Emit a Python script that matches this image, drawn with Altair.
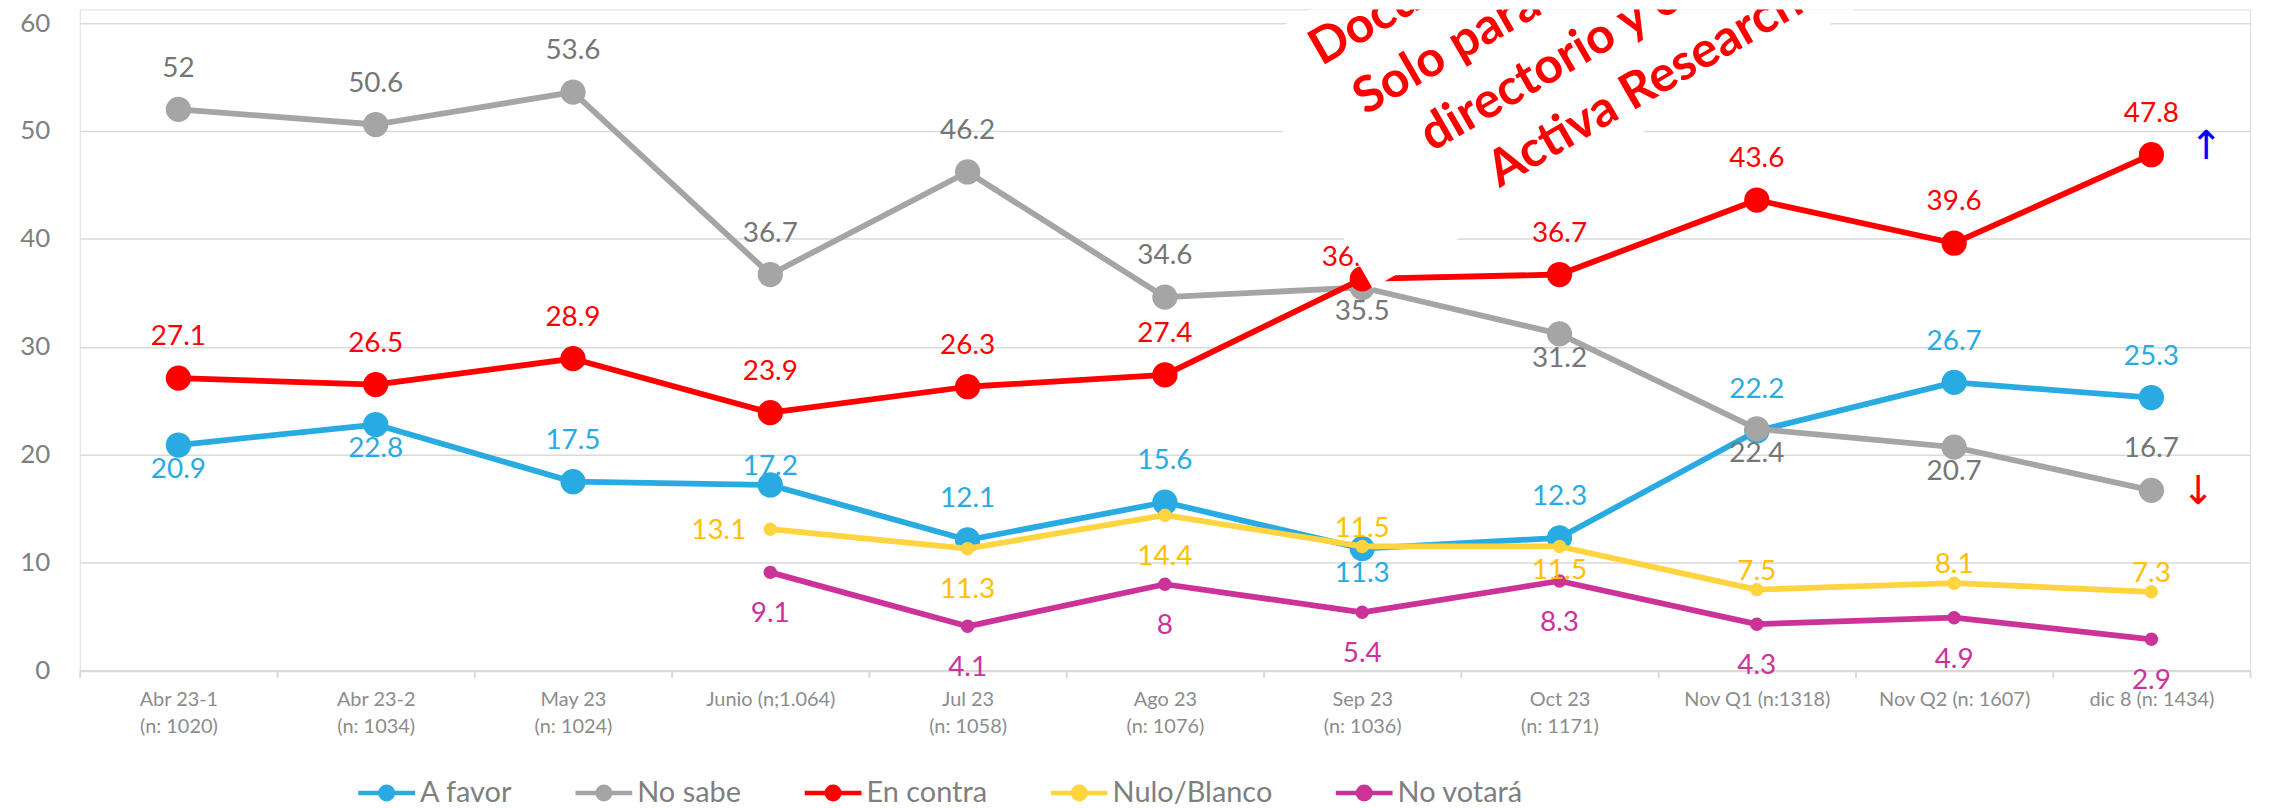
import altair as alt
import pandas as pd

# ---------------- data ----------------
categories = [
    "Abr 23-1\n(n: 1020)", "Abr 23-2\n(n: 1034)", "May 23\n(n: 1024)",
    "Junio (n;1.064)", "Jul 23\n(n: 1058)", "Ago 23\n(n: 1076)",
    "Sep 23\n(n: 1036)", "Oct 23\n(n: 1171)", "Nov Q1 (n:1318)",
    "Nov Q2 (n: 1607)", "dic 8 (n: 1434)",
]
series_names = ["A favor", "No sabe", "En contra", "Nulo/Blanco", "No votará"]

a_favor = [20.9, 22.8, 17.5, 17.2, 12.1, 15.6, 11.3, 12.3, 22.2, 26.7, 25.3]
no_sabe = [52, 50.6, 53.6, 36.7, 46.2, 34.6, 35.5, 31.2, 22.4, 20.7, 16.7]
en_contra = [27.1, 26.5, 28.9, 23.9, 26.3, 27.4, 36.3, 36.7, 43.6, 39.6, 47.8]
nulo_blanco = [None, None, None, 13.1, 11.3, 14.4, 11.5, 11.5, 7.5, 8.1, 7.3]
no_votara = [None, None, None, 9.1, 4.1, 8, 5.4, 8.3, 4.3, 4.9, 2.9]

# data-label side: a=above, an=above near, al=above-left near,
# b=below, bn=below near, l=left
side_a_favor = ["bn", "bn", "a", "an", "a", "a", "bn", "a", "a", "a", "a"]
side_no_sabe = ["a", "a", "a", "a", "a", "a", "bn", "bn", "bn", "bn", "a"]
side_en_contra = ["a", "a", "a", "a", "a", "a", "al", "a", "a", "a", "a"]
side_nulo = [None, None, None, "l", "b", "b", "an", "bn", "an", "an", "an"]
side_no_votara = [None, None, None, "b", "b", "b", "b", "b", "b", "b", "b"]

watermark_lines = ["Documento confidencial", "Solo para uso exclusivo",
                   "directorio y clientes", "Activa Research"]

# ---------------- styles ----------------
line_colors = ["#29ABE2", "#A5A5A5", "#FF0000", "#FFD43F", "#CC3399"]
label_colors = ["#29ABE2", "#767676", "#FF0000", "#FFC000", "#CC3399"]
marker_area = {"A favor": 434, "No sabe": 434, "En contra": 434,
               "Nulo/Blanco": 81, "No votará": 81}
side_style = {
    "a": dict(dy=-41, align="center"),
    "an": dict(dy=-18, align="center"),
    "al": dict(dy=-21, dx=-13, align="center"),
    "b": dict(dy=42, align="center"),
    "bn": dict(dy=25, align="center"),
    "l": dict(dy=2, dx=-24, align="right"),
}

rows = []
for name, vals, sides in zip(
    series_names,
    [a_favor, no_sabe, en_contra, nulo_blanco, no_votara],
    [side_a_favor, side_no_sabe, side_en_contra, side_nulo, side_no_votara],
):
    for c, v, s in zip(categories, vals, sides):
        if v is not None:
            rows.append({"cat": c, "series": name, "value": v, "pos": s})
df = pd.DataFrame(rows)

PLOT_W = 2178
PLOT_H = 663.5
Y_MAX = 61.265

x_axis = alt.Axis(
    labelExpr="split(datum.label, '\\n')",
    domain=True, domainColor="#D9D9D9", domainWidth=2,
    ticks=True, tickColor="#D9D9D9", tickWidth=2, tickSize=7, tickBand="extent",
    labelFont="Lato", labelFontSize=20, labelColor="#8C8C8C",
    labelPadding=12, labelLineHeight=27, labelAngle=0, labelOverlap=False,
    grid=False,
)
y_axis = alt.Axis(
    values=[0, 10, 20, 30, 40, 50, 60], grid=True, gridColor="#DADADA", gridWidth=1.5,
    domain=False, ticks=False, tickSize=0,
    labelFont="Lato", labelFontSize=26, labelColor="#7F7F7F", labelPadding=30,
)
x_enc = alt.X("cat:N", sort=categories,
              scale=alt.Scale(type="band", paddingInner=0, paddingOuter=0),
              bandPosition=0.5, axis=x_axis, title=None)
y_enc = alt.Y("value:Q", scale=alt.Scale(domain=[0, Y_MAX], nice=False, zero=True),
              axis=y_axis, title=None)

legend_path = "M-3,0L3,0M-0.66,0A0.66,0.66,0,1,1,0.66,0A0.66,0.66,0,1,1,-0.66,0Z"
leg = alt.Legend(
    orient="none", legendX=293.5, legendY=771.7, direction="horizontal", title=None,
    symbolType=legend_path, symbolSize=361, symbolStrokeWidth=4.5,
    labelFont="Lato", labelFontSize=29, labelColor="#7F7F7F", labelOffset=19,
    columnPadding=54, padding=0, labelLimit=400, symbolOpacity=1,
)
fill_scale = alt.Scale(domain=series_names, range=line_colors)
stroke_scale = alt.Scale(domain=series_names, range=line_colors)
label_scale = alt.Scale(domain=series_names, range=label_colors)

base = alt.Chart(df)
layers = []
for name in series_names:
    sub = base.transform_filter(alt.datum.series == name)
    layers.append(
        sub.mark_point(filled=True, opacity=1, size=marker_area[name], strokeWidth=4.5).encode(
            x=x_enc, y=y_enc,
            fill=alt.Fill("series:N", scale=fill_scale, legend=leg),
            stroke=alt.Stroke("series:N", scale=stroke_scale, legend=leg),
        )
    )
    layers.append(
        sub.mark_line(strokeWidth=5.8, strokeJoin="round").encode(
            x=x_enc, y=y_enc,
            stroke=alt.Stroke("series:N", scale=stroke_scale, legend=leg),
        )
    )

for code, st in side_style.items():
    layers.append(
        base.transform_filter(alt.datum.pos == code)
        .mark_text(font="Lato", fontSize=28, baseline="middle", **st)
        .encode(
            x=x_enc, y=y_enc,
            text=alt.Text("value:Q", format=".1~f"),
            color=alt.Color("series:N", scale=label_scale, legend=None),
        )
    )

# trend arrows next to the last point
up_df = pd.DataFrame({"cat": [categories[-1]], "value": [en_contra[-1]]})
down_df = pd.DataFrame({"cat": [categories[-1]], "value": [no_sabe[-1]]})
layers.append(
    alt.Chart(up_df).mark_text(text="↑", color="#0000FF", fontSize=40, dx=55, dy=-8,
                               font="DejaVu Sans", baseline="middle")
    .encode(x=x_enc, y=y_enc)
)
layers.append(
    alt.Chart(down_df).mark_text(text="↓", color="#FF0000", fontSize=40, dx=47, dy=2,
                                 font="DejaVu Sans", baseline="middle")
    .encode(x=x_enc, y=y_enc)
)

# watermark (white rotated box + red text), anchored near "Oct 23" at 60
wm_df = pd.DataFrame({"cat": [categories[7]], "value": [60]})
box_path = "M-1,-0.4266L1,-0.4266L1,0.4266L-1,0.4266Z"
layers.append(
    alt.Chart(wm_df).mark_point(shape=box_path, size=409600, angle=330, filled=True,
                                fill="#FFFFFF", opacity=1, strokeWidth=0,
                                xOffset=21.3, yOffset=-12.2, clip=True)
    .encode(x=x_enc, y=y_enc)
)
layers.append(
    alt.Chart(wm_df).mark_text(text=watermark_lines, font="Lato", fontSize=50,
                               fontWeight="bold", color="#FF0000", angle=330,
                               align="center", baseline="alphabetic", lineHeight=65,
                               dx=18, dy=-82, xOffset=21.3, yOffset=-12.2, clip=True)
    .encode(x=x_enc, y=y_enc)
)

chart = (
    alt.layer(*layers)
    .properties(
        width=PLOT_W, height=PLOT_H,
        autosize=alt.AutoSizeParams(type="none"),
        padding={"left": 72, "top": 0, "right": 19, "bottom": 136.5},
        background="#FFFFFF",
    )
    .configure_view(stroke="transparent")
    .configure(font="Lato")
)

chart.save("out.html", embed_options={"renderer": "svg", "actions": False})
